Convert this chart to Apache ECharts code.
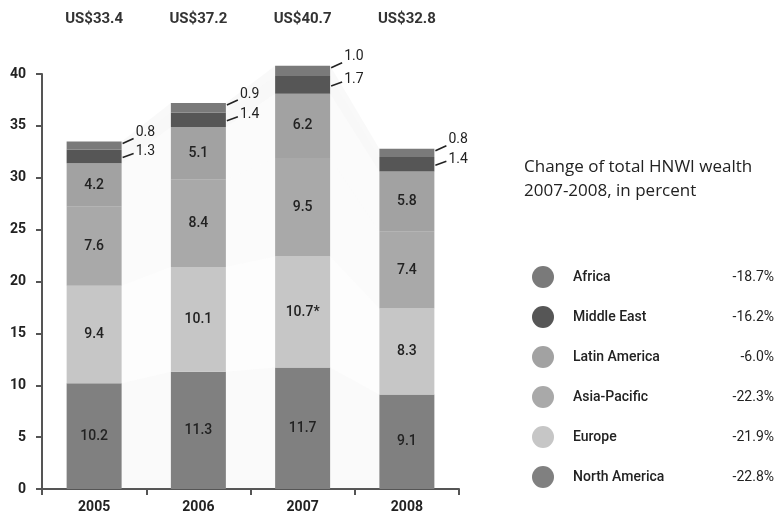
<!DOCTYPE html>
<html><head><meta charset="utf-8">
<script src="https://cdn.jsdelivr.net/npm/echarts@6/dist/echarts.min.js"></script>
<style>html,body{margin:0;padding:0;background:#fff}#c{width:782px;height:520px}</style>
</head><body><div id="c"></div>
<script>
const years = ['2005', '2006', '2007', '2008'];
const totals = ['US$33.4', 'US$37.2', 'US$40.7', 'US$32.8'];
const northAmerica = [10.2, 11.3, 11.7, 9.1];
const europe = [9.4, 10.1, 10.7, 8.3];
const asiaPacific = [7.6, 8.4, 9.5, 7.4];
const latinAmerica = [4.2, 5.1, 6.2, 5.8];
const middleEast = [1.3, 1.4, 1.7, 1.4];
const africa = [0.8, 0.9, 1.0, 0.8];
const europeNotes = ['', '', '*', ''];
const legendRegions = ['Africa', 'Middle East', 'Latin America', 'Asia-Pacific', 'Europe', 'North America'];
const legendChanges = ['-18.7%', '-16.2%', '-6.0%', '-22.3%', '-21.9%', '-22.8%'];
const yTicks = [0, 5, 10, 15, 20, 25, 30, 35, 40];

const FONT = 'Roboto, "DejaVu Sans", sans-serif';
const BAR_W = 55;
const stackOrder = [
  {name: 'North America', data: northAmerica, color: '#808080'},
  {name: 'Europe', data: europe, color: '#c6c6c6'},
  {name: 'Asia-Pacific', data: asiaPacific, color: '#a9a9a9'},
  {name: 'Latin America', data: latinAmerica, color: '#a2a2a2'},
  {name: 'Middle East', data: middleEast, color: '#565656'},
  {name: 'Africa', data: africa, color: '#7a7a7a'}
];
const cum = years.map((y, i) => {
  let acc = 0; const arr = [0];
  stackOrder.forEach(s => { acc += s.data[i]; arr.push(acc); });
  return arr;
});

const chart = echarts.init(document.getElementById('c'), null, {renderer: 'canvas'});
const barSeries = stackOrder.map((s, k) => ({
  name: s.name, type: 'bar', stack: 'total', data: s.data, barWidth: BAR_W, clip: false, z: 3,
  itemStyle: {color: s.color},
  label: {
    show: k < 4, position: 'inside', color: '#222', fontSize: 14, fontFamily: FONT, fontWeight: 500,
    formatter: p => p.value.toFixed(1) + (s.name === 'Europe' ? europeNotes[p.dataIndex] : '')
  }
}));

const ribbonSeries = {
  type: 'custom', z: 1, silent: true, clip: false,
  data: [[0, 0], [1, 0], [2, 0]],
  renderItem: (params, api) => {
    const i = api.value(0);
    const children = [];
    stackOrder.forEach((s, k) => {
      const a0 = api.coord([i, cum[i][k]]), a1 = api.coord([i, cum[i][k + 1]]);
      const b0 = api.coord([i + 1, cum[i + 1][k]]), b1 = api.coord([i + 1, cum[i + 1][k + 1]]);
      const xr = a0[0] + BAR_W / 2, xl = b0[0] - BAR_W / 2;
      children.push({type: 'polygon', shape: {points: [[xr, a0[1]], [xr, a1[1]], [xl, b1[1]], [xl, b0[1]]]},
        style: {fill: s.color, opacity: 0.045, stroke: 'rgba(0,0,0,0.03)', lineWidth: 1}});
    });
    return {type: 'group', children};
  }
};

const outsideLabels = {
  type: 'custom', z: 5, silent: true, clip: false,
  data: years.map((y, i) => [i, cum[i][6], cum[i][5] - middleEast[i] / 2, africa[i], middleEast[i]]),
  renderItem: (params, api) => {
    const i = api.value(0);
    const top = api.coord([i, api.value(1)]);
    const meMid = api.coord([i, api.value(2)])[1];
    const x = top[0] + BAR_W / 2;
    const ta = top[1] - 9;
    const tm = Math.max(meMid - 5, top[1] + 8);
    const ls = {stroke: '#222', lineWidth: 1.6};
    const ts = (t) => ({text: t, fill: '#222', fontSize: 14, fontFamily: FONT, textVerticalAlign: 'middle', textAlign: 'left'});
    return {type: 'group', children: [
      {type: 'line', shape: {x1: x + 1, y1: ta + 11, x2: x + 12, y2: ta + 6}, style: ls},
      {type: 'line', shape: {x1: x + 1, y1: tm + 6, x2: x + 12, y2: tm + 2}, style: ls},
      {type: 'text', x: x + 14, y: ta, style: ts(api.value(3).toFixed(1))},
      {type: 'text', x: x + 14, y: tm, style: ts(api.value(4).toFixed(1))}
    ]};
  }
};

chart.setOption({
  animation: false,
  backgroundColor: '#fff',
  grid: {left: 42, right: 323, top: 74, bottom: 31, containLabel: false},
  title: {
    text: 'Change of total HNWI wealth\n2007-2008, in percent', left: 519, top: 150,
    textStyle: {fontSize: 17, fontWeight: 'normal', color: '#222', fontFamily: '"Open Sans", sans-serif', lineHeight: 24}
  },
  legend: {
    data: legendRegions, orient: 'vertical', left: 527, top: 261, itemWidth: 22, itemHeight: 22, itemGap: 18,
    icon: 'circle', selectedMode: false,
    formatter: name => '{n|' + name + '}{p|' + legendChanges[legendRegions.indexOf(name)] + '}',
    textStyle: {
      fontFamily: FONT, color: '#222', fontSize: 14,
      rich: {
        n: {width: 139, padding: [0, 0, 0, 14], fontSize: 14, fontFamily: FONT, color: '#222', fontWeight: 500},
        p: {width: 62, align: 'right', fontSize: 14, fontFamily: FONT, color: '#222'}
      }
    }
  },
  xAxis: [
    {type: 'category', data: years, position: 'bottom',
      axisLine: {lineStyle: {color: '#555', width: 2}},
      axisTick: {show: true, length: 6, inside: false, lineStyle: {color: '#555', width: 2}},
      axisLabel: {color: '#222', fontSize: 14, fontWeight: 'bold', fontFamily: FONT, margin: 11}},
    {type: 'category', data: totals, position: 'top',
      axisLine: {show: false}, axisTick: {show: false},
      axisLabel: {color: '#333', fontSize: 15, fontWeight: 'bold', fontFamily: FONT, margin: 47}}
  ],
  yAxis: {
    type: 'value', min: yTicks[0], max: yTicks[yTicks.length - 1], interval: 5,
    axisLine: {show: true, lineStyle: {color: '#555', width: 2}},
    axisTick: {show: true, length: 6, lineStyle: {color: '#555', width: 2}},
    splitLine: {show: false},
    axisLabel: {color: '#222', fontSize: 14, fontWeight: 'bold', fontFamily: FONT, margin: 16}
  },
  series: [ribbonSeries].concat(barSeries).concat([outsideLabels])
});
</script></body></html>
